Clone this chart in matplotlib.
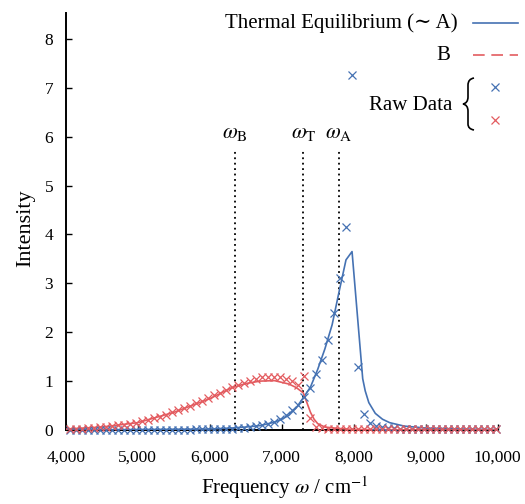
import matplotlib
matplotlib.use("Agg")
import matplotlib.pyplot as plt
from matplotlib.lines import Line2D
from matplotlib.path import Path
from matplotlib.patches import PathPatch
from matplotlib.ticker import FuncFormatter

plt.rcParams['font.family'] = ['Liberation Serif', 'DejaVu Serif']
plt.rcParams['mathtext.fontset'] = 'stix'

# ---------------- data ----------------
raw_x = [4060, 4143, 4227, 4310, 4393, 4477, 4560, 4643, 4727, 4810, 4893, 4977,
         5060, 5143, 5227, 5310, 5393, 5477, 5560, 5643, 5727, 5810, 5893, 5977,
         6060, 6143, 6227, 6310, 6393, 6477, 6560, 6643, 6727, 6810, 6893, 6977,
         7060, 7143, 7227, 7310, 7393, 7477, 7560, 7643, 7727, 7810, 7893, 7977,
         8060, 8143, 8227, 8310, 8393, 8477, 8560, 8643, 8727, 8810, 8893, 8977,
         9060, 9143, 9227, 9310, 9393, 9477, 9560, 9643, 9727, 9810, 9893, 9977]

raw_a = [0.01, 0.01, 0.01, 0.01, 0.01, 0.01, 0.01, 0.01, 0.01, 0.01, 0.01, 0.01,
         0.01, 0.01, 0.01, 0.01, 0.01, 0.01, 0.01, 0.01, 0.01, 0.02, 0.02, 0.02,
         0.02, 0.02, 0.03, 0.03, 0.04, 0.05, 0.06, 0.08, 0.10, 0.13, 0.17, 0.22,
         0.30, 0.40, 0.52, 0.67, 0.86, 1.14, 1.43, 1.84, 2.39, 3.10, 4.15, 7.26,
         1.28, 0.33, 0.14, 0.08, 0.06, 0.05, 0.04, 0.03, 0.03, 0.03, 0.03, 0.03,
         0.03, 0.02, 0.02, 0.02, 0.02, 0.02, 0.02, 0.02, 0.02, 0.02, 0.02, 0.02]

raw_b = [0.02, 0.03, 0.03, 0.04, 0.05, 0.06, 0.07, 0.08, 0.10, 0.11, 0.13, 0.15,
         0.18, 0.21, 0.24, 0.27, 0.31, 0.36, 0.40, 0.45, 0.50, 0.55, 0.60, 0.66,
         0.71, 0.76, 0.81, 0.87, 0.92, 0.97, 1.01, 1.05, 1.08, 1.09, 1.09, 1.08,
         1.05, 1.01, 0.93, 1.10, 0.24, 0.07, 0.04, 0.03, 0.03, 0.02, 0.02, 0.02,
         0.02, 0.02, 0.02, 0.02, 0.02, 0.02, 0.02, 0.02, 0.02, 0.02, 0.02, 0.02,
         0.02, 0.02, 0.02, 0.02, 0.02, 0.02, 0.02, 0.02, 0.02, 0.02, 0.02, 0.02]

line_a_x = [4000, 4500, 5000, 5500, 6000, 6300, 6500, 6700, 6900, 7000, 7100, 7200,
            7300, 7400, 7500, 7600, 7700, 7800, 7893, 7977, 8125, 8160, 8210, 8300,
            8400, 8500, 8700, 9000, 9500, 10000]
line_a_y = [0.00, 0.005, 0.01, 0.015, 0.02, 0.04, 0.06, 0.09, 0.16, 0.22, 0.30, 0.45,
            0.66, 0.88, 1.24, 1.66, 2.15, 2.85, 3.48, 3.65, 1.05, 0.80, 0.56, 0.34,
            0.22, 0.15, 0.08, 0.04, 0.02, 0.01]

line_b_x = [4000, 4500, 5000, 5500, 6000, 6300, 6500, 6700, 6900, 7100, 7200, 7300,
            7350, 7400, 7450, 7500, 7600, 7800, 8000, 9000, 10000]
line_b_y = [0.02, 0.06, 0.15, 0.36, 0.64, 0.86, 0.95, 1.00, 1.01, 0.94, 0.87, 0.76,
            0.56, 0.36, 0.22, 0.13, 0.06, 0.03, 0.01, 0.0, 0.0]

marker_x = [6350, 7300, 7790]
marker_labels = [r'$\omega_{\mathrm{B}}$', r'$\omega_{\mathrm{T}}$', r'$\omega_{\mathrm{A}}$']

xticks = [4000, 5000, 6000, 7000, 8000, 9000, 10000]
yticks = [0, 1, 2, 3, 4, 5, 6, 7, 8]

BLUE = '#4572b3'
RED = '#e35c60'

W, H = 525, 504
fig = plt.figure(figsize=(W / 100, H / 100), dpi=100)


def px(x, y):
    return (x / W, 1 - y / H)


ax = fig.add_axes([65.7 / W, 1 - 430 / H, (497.7 - 65.7) / W, (430 - 13) / H])
ax.set_xlim(4000, 10000)
ax.set_ylim(0, 8.53)

ax.plot(line_a_x, line_a_y, color=BLUE, lw=1.2, zorder=3)
ax.plot(line_b_x, line_b_y, color=RED, lw=1.2, zorder=3)
ax.plot(raw_x, raw_a, 'x', color=BLUE, ms=6, mew=0.9, zorder=4, clip_on=False)
ax.plot(raw_x, raw_b, 'x', color=RED, ms=6, mew=0.9, zorder=4, clip_on=False)

for xm, lab in zip(marker_x, marker_labels):
    ax.plot([xm, xm], [0, 5.73], color='black', lw=1.3, ls=(0, (1, 2)), zorder=2)
    ax.text(xm, 6.07, lab, ha='center', va='center', fontsize=15.5)

for s in ['top', 'right']:
    ax.spines[s].set_visible(False)
for s in ['left', 'bottom']:
    ax.spines[s].set_linewidth(1.4)

ax.set_xticks(xticks)
ax.set_yticks(yticks)
ax.xaxis.set_major_formatter(FuncFormatter(lambda v, p: f'{int(v):,}'))
ax.tick_params(axis='both', direction='in', length=4.5, width=1.0, labelsize=12.5)
ax.tick_params(axis='x', pad=14)
ax.tick_params(axis='y', pad=9)

fig.text(*px(284.7, 488), r'Frequency $\omega$ / cm$^{-1}$', ha='center', va='center',
         fontsize=15)
fig.text(*px(25.5, 228), 'Intensity', ha='center', va='center', rotation=90,
         fontsize=16)

# ---------------- legend (gnuplot style) ----------------
fig.text(*px(458, 23), 'Thermal Equilibrium (\u223c A)', ha='right', va='center',
         fontsize=15, family=['Liberation Serif', 'DejaVu Serif'])
fig.add_artist(Line2D([473 / W, 518 / W], [1 - 22.7 / H] * 2, color=BLUE, lw=1.2))
fig.text(*px(450, 55), 'B', ha='right', va='center', fontsize=15)
fig.add_artist(Line2D([473 / W, 518 / W], [1 - 55 / H] * 2, color=RED, lw=1.2,
                      ls=(0, (7, 4))))
fig.text(*px(452, 106), 'Raw Data', ha='right', va='center', fontsize=15)
fig.add_artist(Line2D([495 / W], [1 - 87.3 / H], marker='x', color=BLUE, ms=6, mew=0.9,
                      ls='none'))
fig.add_artist(Line2D([495 / W], [1 - 120 / H], marker='x', color=RED, ms=6, mew=0.9,
                      ls='none'))

# brace
codes = [Path.MOVETO,
         Path.CURVE3, Path.CURVE3,
         Path.LINETO,
         Path.CURVE3, Path.CURVE3,
         Path.CURVE3, Path.CURVE3,
         Path.LINETO,
         Path.CURVE3, Path.CURVE3]
verts = [px(474, 78),
         px(468, 79), px(468, 85),
         px(468, 97),
         px(468, 103), px(463, 104),
         px(468, 105), px(468, 111),
         px(468, 124),
         px(468, 129), px(474, 130)]
fig.add_artist(PathPatch(Path(verts, codes), transform=fig.transFigure,
                         facecolor='none', edgecolor='black', lw=1.2))

fig.savefig('out.png', dpi=100)
